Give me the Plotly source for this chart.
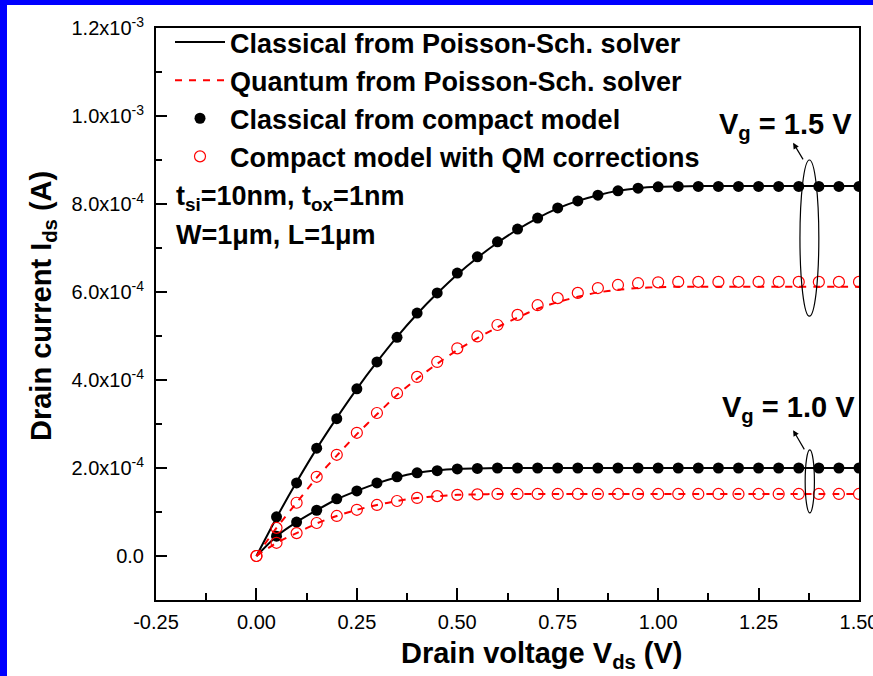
import plotly.graph_objects as go

# Drain voltage grid (V)
vds = [0.00, 0.05, 0.10, 0.15, 0.20, 0.25, 0.30, 0.35, 0.40, 0.45, 0.50,
       0.55, 0.60, 0.65, 0.70, 0.75, 0.80, 0.85, 0.90, 0.95, 1.00,
       1.05, 1.10, 1.15, 1.20, 1.25, 1.30, 1.35, 1.40, 1.45, 1.50]
vds_cm = vds[1:]  # classical compact-model points start at 0.05 V

# Drain currents in units of 1e-4 A
# Poisson-Schroedinger solver, classical, Vg = 1.5 V
ps_classical_15 = [0.00, 0.87, 1.68, 2.44, 3.14, 3.80, 4.41, 4.98, 5.50, 5.97, 6.40,
                   6.78, 7.12, 7.42, 7.68, 7.90, 8.07, 8.20, 8.30, 8.36, 8.39,
                   8.40, 8.41, 8.41, 8.41, 8.41, 8.41, 8.41, 8.41, 8.41, 8.41]
# Poisson-Schroedinger solver, quantum, Vg = 1.5 V
ps_quantum_15 = [0.00, 0.64, 1.21, 1.78, 2.28, 2.77, 3.22, 3.66, 4.03, 4.37, 4.68,
                 4.95, 5.20, 5.42, 5.62, 5.77, 5.89, 5.99, 6.05, 6.09, 6.11,
                 6.12, 6.12, 6.12, 6.12, 6.12, 6.12, 6.12, 6.12, 6.12, 6.12]
# Poisson-Schroedinger solver, classical, Vg = 1.0 V
ps_classical_10 = [0.00, 0.45, 0.77, 1.04, 1.29, 1.48, 1.65, 1.79, 1.89, 1.95, 1.98,
                   1.99, 2.00, 2.00, 2.00, 2.00, 2.00, 2.00, 2.00, 2.00, 2.00,
                   2.00, 2.00, 2.00, 2.00, 2.00, 2.00, 2.00, 2.00, 2.00, 2.00]
# Poisson-Schroedinger solver, quantum, Vg = 1.0 V
ps_quantum_10 = [0.00, 0.30, 0.52, 0.74, 0.91, 1.05, 1.16, 1.25, 1.32, 1.36, 1.39,
                 1.40, 1.41, 1.41, 1.41, 1.41, 1.41, 1.41, 1.41, 1.41, 1.41,
                 1.41, 1.41, 1.41, 1.41, 1.41, 1.41, 1.41, 1.41, 1.41, 1.41]

# Compact model, classical (from 0.05 V)
cm_classical_15 = [0.89, 1.66, 2.45, 3.12, 3.80, 4.41, 4.97, 5.52, 5.98, 6.43,
                   6.80, 7.14, 7.43, 7.68, 7.91, 8.07, 8.20, 8.30, 8.36, 8.39,
                   8.40, 8.40, 8.40, 8.40, 8.40, 8.40, 8.40, 8.40, 8.40, 8.40]
cm_classical_10 = [0.45, 0.77, 1.04, 1.30, 1.48, 1.66, 1.80, 1.89, 1.94, 1.98,
                   1.99, 2.00, 2.00, 2.00, 2.00, 2.00, 2.00, 2.00, 2.00, 2.00,
                   2.00, 2.00, 2.00, 2.00, 2.00, 2.00, 2.00, 2.00, 2.00, 2.00]
# Compact model with QM corrections (from 0 V)
cm_qm_15 = [0.00, 0.64, 1.21, 1.80, 2.30, 2.80, 3.25, 3.70, 4.07, 4.41, 4.72,
            4.99, 5.25, 5.48, 5.70, 5.86, 5.98, 6.09, 6.16, 6.20, 6.22,
            6.23, 6.23, 6.23, 6.23, 6.23, 6.23, 6.23, 6.23, 6.23, 6.23]
cm_qm_10 = [0.00, 0.30, 0.52, 0.75, 0.91, 1.05, 1.16, 1.25, 1.32, 1.36, 1.39,
            1.40, 1.41, 1.41, 1.41, 1.41, 1.41, 1.41, 1.41, 1.41, 1.41,
            1.41, 1.41, 1.41, 1.41, 1.41, 1.41, 1.41, 1.41, 1.41, 1.41]

UNIT = 1e-4


def amps(values):
    return [v * UNIT for v in values]


# Axis ticks
x_ticks = [-0.25, 0.00, 0.25, 0.50, 0.75, 1.00, 1.25, 1.50]
x_labels = ["-0.25", "0.00", "0.25", "0.50", "0.75", "1.00", "1.25", "1.50"]
x_minor = [-0.125, 0.125, 0.375, 0.625, 0.875, 1.125, 1.375]
y_ticks = [0.0, 2e-4, 4e-4, 6e-4, 8e-4, 1.0e-3, 1.2e-3]
y_labels = ["0.0", "2.0x10<sup>-4</sup>", "4.0x10<sup>-4</sup>", "6.0x10<sup>-4</sup>",
            "8.0x10<sup>-4</sup>", "1.0x10<sup>-3</sup>", "1.2x10<sup>-3</sup>"]
y_minor = [1e-4, 3e-4, 5e-4, 7e-4, 9e-4, 1.1e-3]

FONT = "Liberation Sans, Arial, sans-serif"
W, H = 873, 676
ML, MR, MT, MB = 156, 14, 28, 76

fig = go.Figure()

# Solver curves
fig.add_trace(go.Scatter(x=vds, y=amps(ps_classical_15), mode="lines",
                         line=dict(color="black", width=2, shape="spline", smoothing=0.6),
                         name="Classical from Poisson-Sch. solver", legendgroup="a"))
fig.add_trace(go.Scatter(x=vds, y=amps(ps_classical_10), mode="lines",
                         line=dict(color="black", width=2, shape="spline", smoothing=0.6),
                         showlegend=False, legendgroup="a"))
fig.add_trace(go.Scatter(x=vds, y=amps(ps_quantum_15), mode="lines",
                         line=dict(color="red", width=2, dash="7px,7px", shape="spline", smoothing=0.6),
                         name="Quantum from Poisson-Sch. solver", legendgroup="b"))
fig.add_trace(go.Scatter(x=vds, y=amps(ps_quantum_10), mode="lines",
                         line=dict(color="red", width=2, dash="7px,7px", shape="spline", smoothing=0.6),
                         showlegend=False, legendgroup="b"))

# Compact model points
fig.add_trace(go.Scatter(x=vds_cm, y=amps(cm_classical_15), mode="markers",
                         marker=dict(symbol="circle", size=11, color="black"),
                         name="Classical from compact model", legendgroup="c"))
fig.add_trace(go.Scatter(x=vds_cm, y=amps(cm_classical_10), mode="markers",
                         marker=dict(symbol="circle", size=11, color="black"),
                         showlegend=False, legendgroup="c"))
fig.add_trace(go.Scatter(x=vds, y=amps(cm_qm_15), mode="markers",
                         marker=dict(symbol="circle-open", size=11, color="red",
                                     line=dict(width=1.2, color="red")),
                         name="Compact model with QM corrections", legendgroup="d"))
fig.add_trace(go.Scatter(x=vds, y=amps(cm_qm_10), mode="markers",
                         marker=dict(symbol="circle-open", size=11, color="red",
                                     line=dict(width=1.2, color="red")),
                         showlegend=False, legendgroup="d"))

axis_common = dict(
    showline=True, linewidth=2, linecolor="black", mirror=True,
    showgrid=False, zeroline=False, automargin=False,
    ticks="inside", tickwidth=2, tickcolor="black",
    tickfont=dict(family=FONT, size=20, color="black"),
    ticklabeloverflow="allow",
)

fig.update_xaxes(range=[-0.25, 1.5], tickmode="array", tickvals=x_ticks, ticktext=x_labels,
                 ticklen=12, ticklabelstandoff=3,
                 minor=dict(tickvals=x_minor, ticks="inside", ticklen=7, tickwidth=2,
                            tickcolor="black", showgrid=False),
                 **axis_common)
fig.update_yaxes(range=[-1e-4, 1.2e-3], tickmode="array", tickvals=y_ticks, ticktext=y_labels,
                 ticklen=11, ticklabelstandoff=6,
                 minor=dict(tickvals=y_minor, ticks="inside", ticklen=6, tickwidth=2,
                            tickcolor="black", showgrid=False),
                 **axis_common)

# pixel -> paper helpers for page decoration
pw, ph = W - ML - MR, H - MT - MB


def px(xp):
    return (xp - ML) / pw


def py(yp):
    return (H - MB - yp) / ph


shapes = [
    # blue page frame (top and left)
    dict(type="rect", xref="paper", yref="paper", x0=px(0), x1=px(W), y0=py(0), y1=py(5),
         fillcolor="#0000ff", line=dict(width=0), layer="above"),
    dict(type="rect", xref="paper", yref="paper", x0=px(0), x1=px(7), y0=py(H), y1=py(0),
         fillcolor="#0000ff", line=dict(width=0), layer="above"),
    # ellipses grouping the curves of each gate voltage
    dict(type="circle", xref="x", yref="y", x0=1.353, x1=1.400, y0=5.45e-4, y1=9.0e-4,
         line=dict(color="black", width=1.2)),
    dict(type="circle", xref="x", yref="y", x0=1.366, x1=1.389, y0=0.98e-4, y1=2.41e-4,
         line=dict(color="black", width=1.2)),
]

bold = dict(family=FONT, color="black", weight="bold")
annotations = [
    dict(x=-0.205, y=8.14e-4, xref="x", yref="y", xanchor="left", yanchor="middle",
         text="t<sub>si</sub>=10nm, t<sub>ox</sub>=1nm", showarrow=False, font=dict(size=27, **bold)),
    dict(x=-0.205, y=7.30e-4, xref="x", yref="y", xanchor="left", yanchor="middle",
         text="W=1\u03bcm, L=1\u03bcm", showarrow=False, font=dict(size=27, **bold)),
    dict(x=1.147, y=9.77e-4, xref="x", yref="y", xanchor="left", yanchor="middle",
         text="V<sub>g</sub> = 1.5 V", showarrow=False, font=dict(size=29, **bold)),
    dict(x=1.154, y=3.34e-4, xref="x", yref="y", xanchor="left", yanchor="middle",
         text="V<sub>g</sub> = 1.0 V", showarrow=False, font=dict(size=29, **bold)),
    # arrows from the ellipses to the labels
    dict(x=1.336, y=9.39e-4, ax=1.363, ay=8.98e-4, xref="x", yref="y", axref="x", ayref="y",
         text="", showarrow=True, arrowhead=2, arrowsize=1, arrowwidth=1.2, arrowcolor="black"),
    dict(x=1.336, y=2.86e-4, ax=1.366, ay=2.39e-4, xref="x", yref="y", axref="x", ayref="y",
         text="", showarrow=True, arrowhead=2, arrowsize=1, arrowwidth=1.2, arrowcolor="black"),
    # axis titles
    dict(x=px(542), y=py(655), xref="paper", yref="paper", xanchor="center", yanchor="middle",
         text="Drain voltage V<sub>ds</sub> (V)", showarrow=False, font=dict(size=29, **bold)),
    dict(x=px(43), y=py(306), xref="paper", yref="paper", xanchor="center", yanchor="middle",
         text="Drain current I<sub>ds</sub> (A)", textangle=-90, showarrow=False,
         font=dict(size=29, **bold)),
]

fig.update_layout(
    width=W, height=H,
    margin=dict(l=ML, r=MR, t=MT, b=MB, pad=0, autoexpand=False),
    paper_bgcolor="white", plot_bgcolor="white",
    shapes=shapes, annotations=annotations,
    showlegend=True,
    legend=dict(x=px(170), y=py(18), xanchor="left", yanchor="top",
                bgcolor="rgba(0,0,0,0)", borderwidth=0,
                font=dict(family=FONT, size=27, color="black", weight="bold"),
                itemwidth=50, tracegroupgap=0),
)

fig.write_html("out.html")
